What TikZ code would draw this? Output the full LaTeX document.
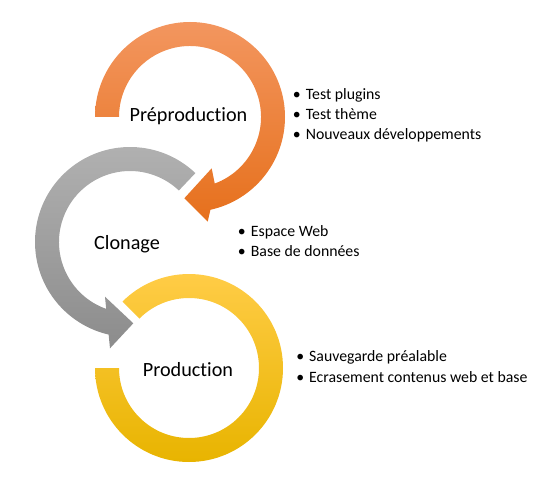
\documentclass[tikz,border=0pt]{standalone}
\usepackage{fontspec}
\setmainfont{Carlito}[Ligatures=NoCommon]
\usetikzlibrary{calc}
\definecolor{orTop}{RGB}{243,150,95}
\definecolor{orBot}{RGB}{230,112,28}
\definecolor{grTop}{RGB}{178,178,178}
\definecolor{grBot}{RGB}{140,140,140}
\definecolor{yeTop}{RGB}{255,204,70}
\definecolor{yeBot}{RGB}{232,180,0}
\begin{document}
\begin{tikzpicture}[x=1pt,y=1pt,
  lbl/.style={font=\fontsize{20.2}{24}\selectfont, anchor=base, inner sep=0pt},
  item/.style={font=\fontsize{15.8}{20}\selectfont, anchor=base west, inner sep=0pt}]
\useasboundingbox (0,0) rectangle (556,480);
\coordinate (oc) at (190,363);
\coordinate (gc) at (130,238);
\coordinate (yc) at (189,112);
% yellow ring
\shade[top color=yeTop, bottom color=yeBot]
  ($(yc)+(180:94)$) arc[start angle=180,end angle=495,radius=94]
  -- ($(yc)+(135:70)$) arc[start angle=495,end angle=180,radius=70] -- cycle;
% gray arrow
\shade[top color=grTop, bottom color=grBot]
  ($(gc)+(46.5:95)$) arc[start angle=46.5,end angle=257,radius=95]
  -- (110,131.7) -- (133.3,156.7) -- (105,183.3)
  -- ($(gc)+(250.4:71)$) arc[start angle=250.4,end angle=46.5,radius=71] -- cycle;
% orange arrow
\shade[top color=orTop, bottom color=orBot]
  ($(oc)+(180:95)$) arc[start angle=180,end angle=-77.6,radius=95]
  -- (207.7,258.3) -- (184.3,281.7) -- (211.7,311.7)
  -- ($(oc)+(-69.6:71)$) arc[start angle=-69.6,end angle=180,radius=71] -- cycle;
% labels
\node[lbl] (pre) at (188.5,358) {Préproduction};
\node[lbl] (clo) at (127,230.7) {Clonage};
\node[lbl] (pro) at (188,104) {Production};
% lists
\node[item] (a1) at (287.7,380) {\makebox[18pt][c]{\textbullet}Test plugins};
\node[item] (a2) at (287.7,360) {\makebox[18pt][c]{\textbullet}Test thème};
\node[item] (a3) at (287.7,340) {\makebox[18pt][c]{\textbullet}Nouveaux développements};
\node[item] (b1) at (232.7,243.3) {\makebox[18pt][c]{\textbullet}Espace Web};
\node[item] (b2) at (232.7,223.3) {\makebox[18pt][c]{\textbullet}Base de données};
\node[item] (c1) at (291,118.3) {\makebox[18pt][c]{\textbullet}Sauvegarde préalable};
\node[item] (c2) at (291,98) {\makebox[18pt][c]{\textbullet}Ecrasement contenus web et base};
\end{tikzpicture}
\end{document}
